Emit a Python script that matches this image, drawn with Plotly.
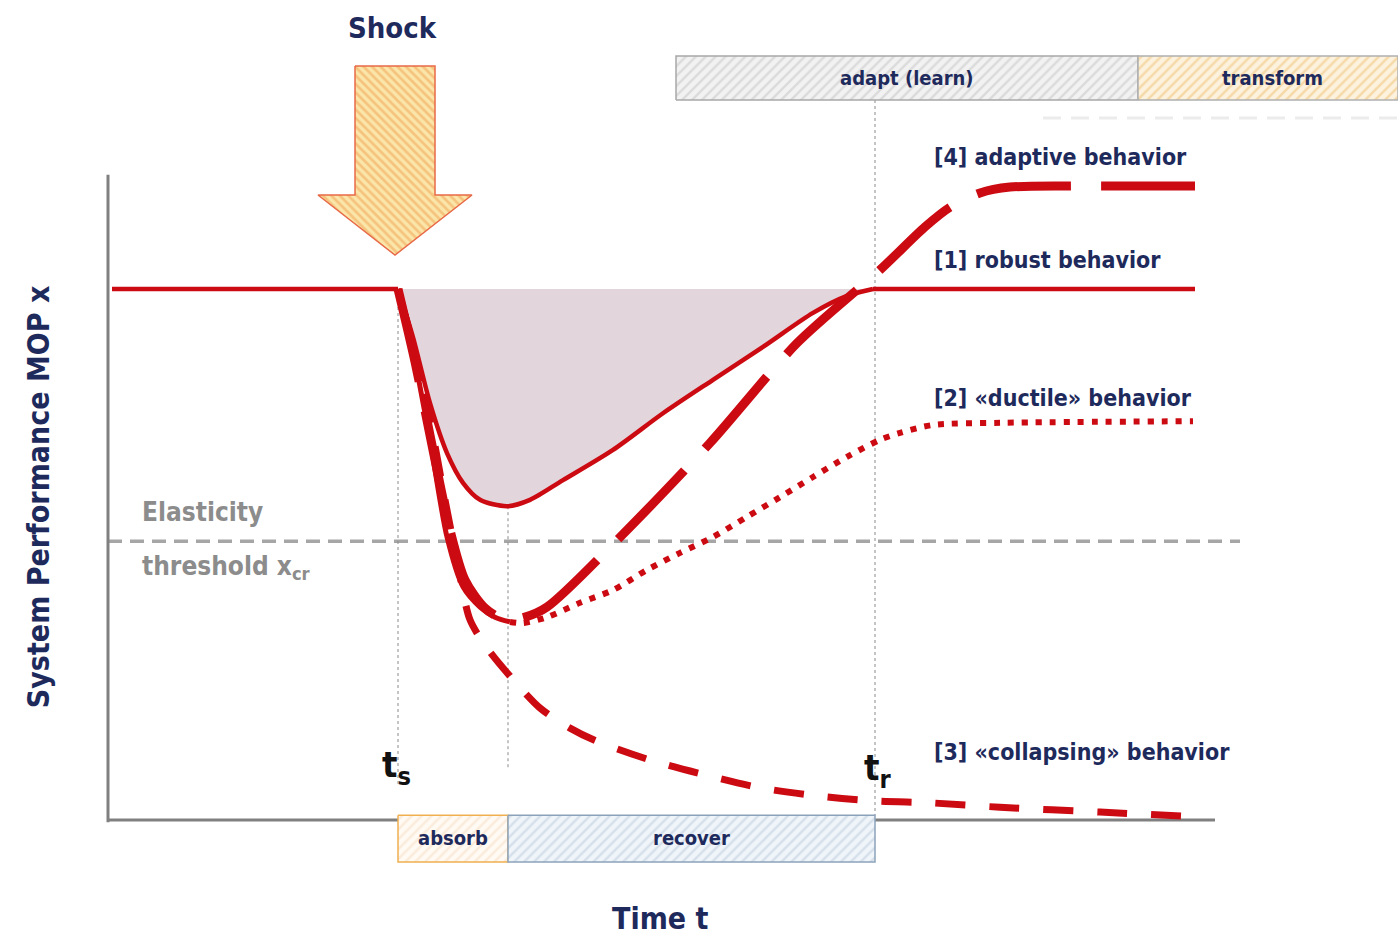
import plotly.graph_objects as go

# ---------------- data (time t, performance x) ----------------
T_BASE = [0.4, 29.0]
X_BASE = [100, 100]

T_ROBUST = [29.0, 30.5, 32.2, 33.9, 35.5, 37.2, 39.9, 42.2, 45.5, 50.5, 55.5, 60.5, 65.5, 70.5, 73.9, 76.5, 108.7]
X_ROBUST = [100, 90.9, 78.5, 69.1, 63.5, 60.3, 59.1, 60.3, 64.0, 69.7, 76.6, 82.9, 89.1, 95.5, 98.7, 100, 100]

T_DUCT_DROP = [29.0, 30.2, 30.7, 32.2, 33.9, 35.5, 37.2, 38.7, 40.2]
X_DUCT_DROP = [100, 92.3, 86.6, 71.6, 53.3, 43.9, 40.1, 38.2, 37.3]
T_DUCT_REC = [40.2, 41.5, 43.9, 47.2, 50.5, 53.9, 57.2, 60.5, 63.9, 67.2, 70.5, 73.9, 77.2, 79.2, 82.5, 89.2, 108.5]
X_DUCT_REC = [37.3, 37.1, 38.2, 40.9, 43.3, 47.1, 50.3, 53.3, 57.1, 60.8, 64.6, 68.4, 71.6, 72.9, 74.4, 74.8, 75.1]

T_COLLAPSE = [29.0, 30.7, 32.2, 33.7, 35.0, 36.2, 37.9, 40.2, 43.2, 46.2, 48.8, 54.2, 59.7, 65.4, 71.1, 76.6, 82.5, 89.2, 99.2, 108.7]
X_COLLAPSE = [100, 87.6, 75.3, 60.3, 48.0, 37.7, 32.4, 27.1, 21.1, 17.3, 14.9, 11.3, 8.5, 6.0, 4.5, 3.6, 3.2, 2.4, 1.5, 0.6]

T_ADAPT = [29.0, 30.7, 32.4, 34.2, 35.7, 37.7, 39.7, 41.7, 43.9, 50.9, 60.2, 68.9, 77.2, 81.7, 84.2, 87.2, 90.2, 96.0, 102.0, 108.7]
X_ADAPT = [100, 86.3, 70.6, 54.6, 45.2, 39.9, 37.7, 38.2, 40.1, 52.7, 71.0, 89.8, 103.6, 111.7, 115.4, 118.1, 119.2, 119.4, 119.4, 119.4]

THRESHOLD = 52.5
T_S, T_MIN, T_R = 29.0, 40.0, 76.7
X_MIN_ROBUST = 59.1

PHASES_TOP = ["adapt (learn)", "transform"]
PHASES_TOP_T = [56.8, 103.0, 129.0]
PHASES_BOTTOM = ["absorb", "recover"]
PHASES_BOTTOM_T = [T_S, T_MIN, T_R]

BEHAVIOR_LABELS = ["[4] adaptive behavior", "[1] robust behavior",
                   "[2] «ductile» behavior", "[3] «collapsing» behavior"]
BEHAVIOR_X = [124.9, 105.5, 79.5, 12.8]

# ---------------- style ----------------
RED = "#cc0a12"
NAVY = "#1e2a5c"
GRAY = "#a6a6a6"
AXIS = "#808080"
FONT = "Liberation Sans Narrow, DejaVu Sans Condensed, Liberation Sans, sans-serif"

fig = go.Figure()

def line(t, x, color, width, dash="solid", shape="linear"):
    fig.add_trace(go.Scatter(x=t, y=x, mode="lines", hoverinfo="skip",
                             line=dict(color=color, width=width, dash=dash, shape=shape,
                                       smoothing=0.8)))

def box(t0, t1, y0, y1, fg, bg, border, shape="/", bw=1.5):
    fig.add_trace(go.Scatter(
        x=[t0, t1, t1, t0, t0], y=[y0, y0, y1, y1, y0], mode="lines",
        fill="toself", fillcolor=bg, hoverinfo="skip",
        fillpattern=dict(shape=shape, fgcolor=fg, bgcolor=bg, size=7, solidity=0.35),
        line=dict(color=border, width=bw)))

# shaded loss area (between baseline and robust curve)
fig.add_trace(go.Scatter(x=[T_ROBUST[0], T_ROBUST[15]], y=[X_ROBUST[0], X_ROBUST[15]],
                         mode="lines", line=dict(width=0), hoverinfo="skip"))
fig.add_trace(go.Scatter(x=T_ROBUST[:16], y=X_ROBUST[:16], mode="lines", fill="tonexty",
                         fillcolor="#e2d5dc", hoverinfo="skip",
                         line=dict(width=0, shape="spline", smoothing=0.8)))

# threshold
line([0, 113.2], [THRESHOLD, THRESHOLD], GRAY, 3.5, "14px,8px")

# vertical guides
line([T_S, T_S], [100, 6.8], "#8a8a8a", 1, "3px,3px")
line([T_MIN, T_MIN], [X_MIN_ROBUST, 9.8], "#8a8a8a", 1, "3px,3px")
line([T_R, T_R], [135.6, 0.9], "#8a8a8a", 1, "3px,3px")

# faint dashes under top boxes
line([93.5, 129], [132.2, 132.2], "#ececec", 3, "18px,10px")

# axes
line([0, 0], [121.5, -0.4], AXIS, 3)
line([0, 110.7], [0, 0], AXIS, 3)

# curves
line(T_COLLAPSE, X_COLLAPSE, RED, 7, "30px,24px", "spline")
line(T_DUCT_REC, X_DUCT_REC, RED, 6, "6px,8px", "spline")
line(T_DUCT_DROP, X_DUCT_DROP, RED, 5, "solid", "spline")
line(T_ADAPT, X_ADAPT, RED, 9, "95px,30px", "spline")
line(T_BASE, X_BASE, RED, 4.5)
line(T_ROBUST[:16], X_ROBUST[:16], RED, 4.5, "solid", "spline")
line(T_ROBUST[15:], X_ROBUST[15:], RED, 4.5)

# phase boxes
box(PHASES_TOP_T[0], PHASES_TOP_T[1], 135.6, 143.9, "#c4c4c4", "#f2f2f2", "#a8a8a8")
box(PHASES_TOP_T[1], PHASES_TOP_T[2], 135.6, 143.9, "#f0c070", "#fcf2de", "#b0b0b0")
box(PHASES_BOTTOM_T[0], PHASES_BOTTOM_T[1], 0.9, -7.9, "#f6dcc0", "#fffaf4", "#f0b050")
box(PHASES_BOTTOM_T[1], PHASES_BOTTOM_T[2], 0.9, -7.9, "#b9c9da", "#f0f5fa", "#8ca2ba")

# shock arrow
fig.add_trace(go.Scatter(
    x=[24.7, 32.7, 32.7, 36.4, 28.7, 21.0, 24.7, 24.7],
    y=[142.0, 142.0, 117.7, 117.7, 106.4, 117.7, 117.7, 142.0],
    mode="lines", fill="toself", fillcolor="#fbe3a6", hoverinfo="skip",
    fillpattern=dict(shape="\\", fgcolor="#f0a050", bgcolor="#fbe6aa", size=6, solidity=0.45),
    line=dict(color="#e86a48", width=1.5)))

def text(t, x, s, size, color=NAVY, anchor="center", weight="bold", angle=0):
    fig.add_annotation(x=t, y=x, text=s, showarrow=False, xanchor=anchor, yanchor="middle",
                       textangle=angle,
                       font=dict(family=FONT, size=size, color=color, weight=weight))

text(28.4, 149.2, "Shock", 29)
text((PHASES_TOP_T[0] + PHASES_TOP_T[1]) / 2, 139.75, PHASES_TOP[0], 20)
text(116.4, 139.75, PHASES_TOP[1], 20)
text((PHASES_BOTTOM_T[0] + PHASES_BOTTOM_T[1]) / 2, -3.4, PHASES_BOTTOM[0], 20)
text((PHASES_BOTTOM_T[1] + PHASES_BOTTOM_T[2]) / 2, -3.4, PHASES_BOTTOM[1], 20)
for lab, xv in zip(BEHAVIOR_LABELS, BEHAVIOR_X):
    text(82.4, xv, lab, 23, anchor="left")
text(3.2, 58.0, "Elasticity", 26, color="#8c8c8c", anchor="left")
text(3.2, 47.6, "threshold x<sub>cr</sub>", 26, color="#8c8c8c", anchor="left")
text(28.8, 9.8, "t<sub>s</sub>", 36, color="#111111")
text(77.0, 9.4, "t<sub>r</sub>", 36, color="#111111")
text(55.2, -18.5, "Time t", 30)
text(-7.0, 60.8, "System Performance MOP x", 30, angle=-90)

fig.update_layout(
    width=1398, height=939, margin=dict(l=0, r=0, t=0, b=0),
    paper_bgcolor="white", plot_bgcolor="white", showlegend=False,
    xaxis=dict(range=[-10.8, 129.0], visible=False, fixedrange=True),
    yaxis=dict(range=[-22.41, 154.43], visible=False, fixedrange=True),
)

fig.write_html("out.html", post_script="document.body.style.margin='0';",
               config={"displayModeBar": False})
